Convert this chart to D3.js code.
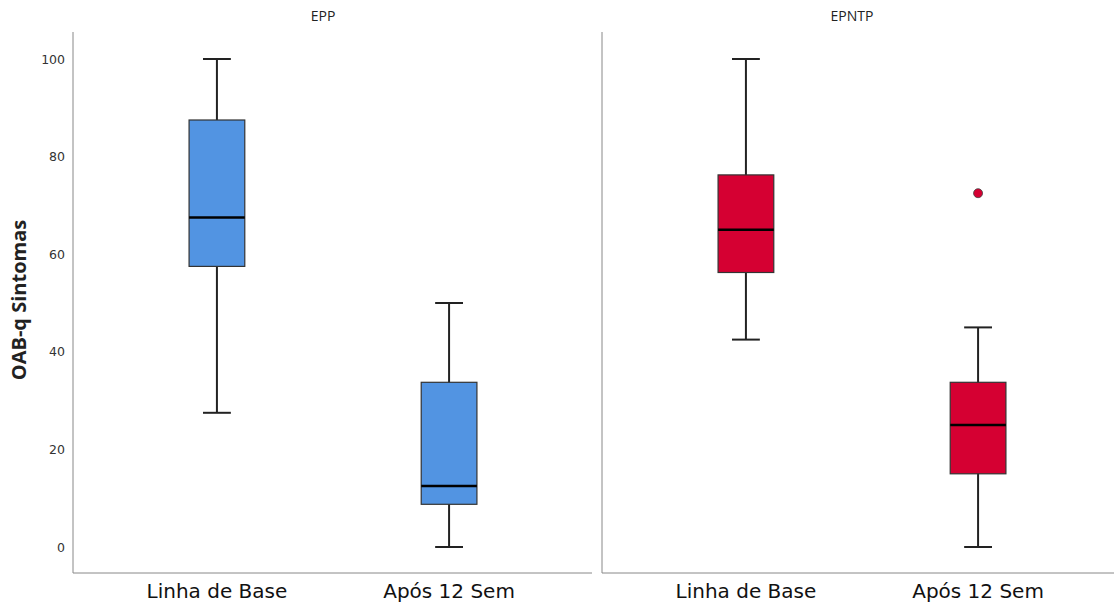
<!DOCTYPE html>
<html>
<head>
<meta charset="utf-8">
<script src="https://cdn.jsdelivr.net/npm/d3@7"></script>
<style>
  body { margin: 0; background: #fff; }
  svg { display: block; font-family: "Open Sans", "DejaVu Sans", sans-serif; }
</style>
</head>
<body>
<div id="chart"></div>
<script>
/* data */
const panels = ["EPP", "EPNTP"];
const groups = ["Linha de Base", "Após 12 Sem"];
const panelColors = ["#5294e2", "#d50032"];
// [lowWhisker, q1, median, q3, highWhisker] per panel, per group
const statsEPP = [[27.5, 57.5, 67.5, 87.5, 100], [0, 8.75, 12.5, 33.75, 50]];
const statsEPNTP = [[42.5, 56.25, 65, 76.25, 100], [0, 15, 25, 33.75, 45]];
const outliersEPP = [[], []];
const outliersEPNTP = [[], [72.5]];
const yTicks = [0, 20, 40, 60, 80, 100];

const allStats = [statsEPP, statsEPNTP];
const allOutliers = [outliersEPP, outliersEPNTP];

/* svg size */
const width = 1114;
const height = 607;

const svg = d3.select("#chart").append("svg")
    .attr("width", width)
    .attr("height", height);

const y = d3.scaleLinear()
    .domain([0, 100])
    .range([547, 59]);

const plotTop = 32, plotBottom = 573;

/* each panel: start x, end of drawn axis line; both panels share a 520px band range */
const panelX = [[73, 592], [602, 1114]];
const panelW = 520;

/* y axis */
const yAxis = d3.axisLeft(y)
    .tickValues(yTicks)
    .tickSize(0)
    .tickPadding(8);

const yG = svg.append("g")
    .attr("transform", "translate(73,0)")
    .call(yAxis);
yG.select(".domain").remove();
yG.selectAll("text")
    .attr("font-size", 12.5)
    .attr("fill", "#333")
    .attr("font-family", "DejaVu Sans, sans-serif");

svg.append("text")
    .attr("transform", "translate(26," + 300 + ") rotate(-90)")
    .attr("text-anchor", "middle")
    .attr("font-size", 20)
    .attr("font-weight", "bold")
    .attr("fill", "#222")
    .text("OAB-q Sintomas");

panels.forEach(function(name, p) {
    const x0 = panelX[p][0], x1 = panelX[p][1];
    const x = d3.scaleBand()
        .domain(groups)
        .range([x0, x0 + panelW])
        .paddingInner(0.76)
        .paddingOuter(0.5);

    const g = svg.append("g");

    // panel frame: left and bottom lines
    g.append("line")
        .attr("x1", x0).attr("x2", x0)
        .attr("y1", plotTop).attr("y2", plotBottom)
        .attr("stroke", "#888").attr("stroke-width", 1);
    g.append("line")
        .attr("x1", x0).attr("x2", x1)
        .attr("y1", plotBottom).attr("y2", plotBottom)
        .attr("stroke", "#888").attr("stroke-width", 1);

    // panel title
    g.append("text")
        .attr("x", x0 + panelW / 2 - 10)
        .attr("y", 21)
        .attr("text-anchor", "middle")
        .attr("font-size", 14)
        .attr("fill", "#222")
        .text(name);

    // x labels
    const xAxis = d3.axisBottom(x).tickSize(0).tickPadding(11);
    const xG = g.append("g")
        .attr("transform", "translate(0," + plotBottom + ")")
        .call(xAxis);
    xG.select(".domain").remove();
    xG.selectAll("text")
        .attr("font-size", 20)
        .attr("fill", "#111")
        .attr("font-family", "DejaVu Sans, sans-serif");

    const data = groups.map(function(gr, i) { return { group: gr, s: allStats[p][i], out: allOutliers[p][i] }; });

    const box = g.selectAll(".box")
        .data(data)
        .enter().append("g")
        .attr("class", "box");

    const bw = x.bandwidth();
    const capW = bw * 0.5;

    // whisker stem
    box.append("line")
        .attr("x1", function(d) { return x(d.group) + bw / 2; })
        .attr("x2", function(d) { return x(d.group) + bw / 2; })
        .attr("y1", function(d) { return y(d.s[0]); })
        .attr("y2", function(d) { return y(d.s[4]); })
        .attr("stroke", "#222").attr("stroke-width", 2);

    // caps
    [0, 4].forEach(function(k) {
        box.append("line")
            .attr("x1", function(d) { return x(d.group) + bw / 2 - capW / 2; })
            .attr("x2", function(d) { return x(d.group) + bw / 2 + capW / 2; })
            .attr("y1", function(d) { return y(d.s[k]); })
            .attr("y2", function(d) { return y(d.s[k]); })
            .attr("stroke", "#222").attr("stroke-width", 2);
    });

    // box
    box.append("rect")
        .attr("x", function(d) { return x(d.group); })
        .attr("width", bw)
        .attr("y", function(d) { return y(d.s[3]); })
        .attr("height", function(d) { return y(d.s[1]) - y(d.s[3]); })
        .attr("fill", panelColors[p])
        .attr("stroke", "#333").attr("stroke-width", 1.2);

    // median
    box.append("line")
        .attr("x1", function(d) { return x(d.group); })
        .attr("x2", function(d) { return x(d.group) + bw; })
        .attr("y1", function(d) { return y(d.s[2]); })
        .attr("y2", function(d) { return y(d.s[2]); })
        .attr("stroke", "#000").attr("stroke-width", 2.5);

    // outliers
    box.selectAll(".outlier")
        .data(function(d) { return d.out.map(function(v) { return { group: d.group, v: v }; }); })
        .enter().append("circle")
        .attr("class", "outlier")
        .attr("cx", function(d) { return x(d.group) + bw / 2; })
        .attr("cy", function(d) { return y(d.v); })
        .attr("r", 4.5)
        .attr("fill", panelColors[p])
        .attr("stroke", "#444").attr("stroke-width", 0.8);
});
</script>
</body>
</html>
